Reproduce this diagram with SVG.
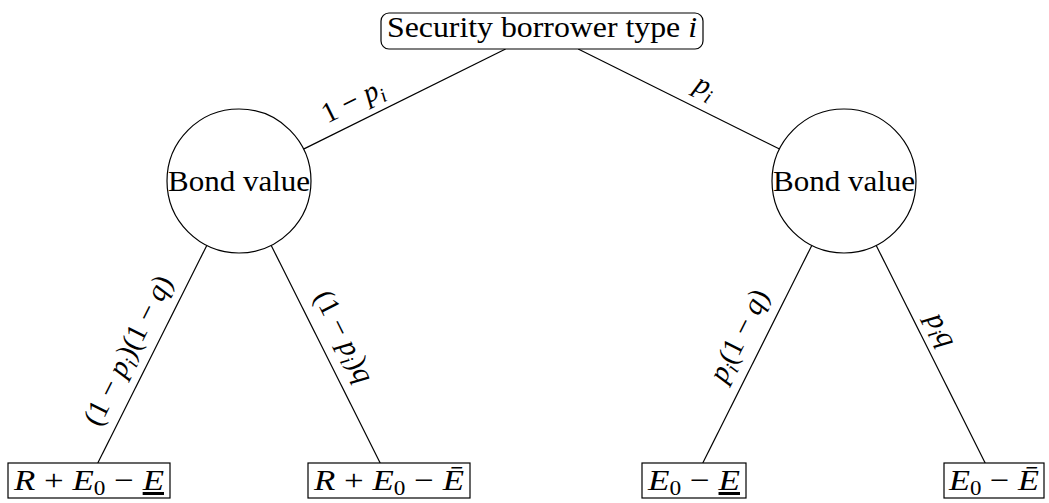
<svg xmlns="http://www.w3.org/2000/svg" width="1049" height="503" viewBox="0 0 1049 503">
<style>
.t{font-family:"Liberation Serif","Times New Roman",serif;font-size:30px;fill:#000;text-anchor:middle}
.l{font-family:"Liberation Serif","Times New Roman",serif;font-size:29px;fill:#000;text-anchor:middle}
.i{font-style:italic}
.s{font-size:20px}
.shape{fill:#fff;stroke:#000;stroke-width:1.2}
.edge{stroke:#000;stroke-width:1.2;fill:none}
</style>
<rect width="1049" height="503" fill="#fff"/>
<g id="connectors">
<line class="edge" x1="505.6" y1="49" x2="303.5" y2="149.1"/>
<line class="edge" x1="578.2" y1="49" x2="779.5" y2="149"/>
<line class="edge" x1="206.8" y1="245.4" x2="97.8" y2="463"/>
<line class="edge" x1="271.2" y1="245.4" x2="380.2" y2="463"/>
<line class="edge" x1="811.8" y1="245.4" x2="702.8" y2="463"/>
<line class="edge" x1="876.2" y1="245.4" x2="985.2" y2="463"/>
<g id="label-1mpi" transform="translate(353,102) rotate(-26.3)"><text class="l" y="8">1 − <tspan class="i">p</tspan><tspan class="i s" dy="6">i</tspan></text></g>
<g id="label-pi" transform="translate(705,87) rotate(26.4)"><text class="l" y="8"><tspan class="i">p</tspan><tspan class="i s" dy="6">i</tspan></text></g>
<g id="label-ll" transform="translate(129,351) rotate(-63.4)"><text class="l" y="8">(1 − <tspan class="i">p</tspan><tspan class="i s" dy="6">i</tspan><tspan dy="-6">)(1 − </tspan><tspan class="i">q</tspan>)</text></g>
<g id="label-lr" transform="translate(343,337) rotate(63.4)"><text class="l" y="8">(1 − <tspan class="i">p</tspan><tspan class="i s" dy="6">i</tspan><tspan dy="-6">)</tspan><tspan class="i">q</tspan></text></g>
<g id="label-rl" transform="translate(740,336) rotate(-63.4)"><text class="l" y="8"><tspan class="i">p</tspan><tspan class="i s" dy="6">i</tspan><tspan dy="-6">(1 − </tspan><tspan class="i">q</tspan>)</text></g>
<g id="label-rr" transform="translate(941,330) rotate(63.4)"><text class="l" y="8"><tspan class="i">p</tspan><tspan class="i s" dy="6">i</tspan><tspan class="i" dy="-6">q</tspan></text></g>
</g>
<g id="root">
<rect class="shape" x="381" y="13" width="322" height="36" rx="8"/>
<text class="t" x="542" y="37" textLength="310" lengthAdjust="spacingAndGlyphs">Security borrower type <tspan class="i">i</tspan></text>
</g>
<g id="bond-left">
<circle class="shape" cx="239" cy="181" r="72"/>
<text class="t" x="239" y="191" textLength="142" lengthAdjust="spacingAndGlyphs">Bond value</text>
</g>
<g id="bond-right">
<circle class="shape" cx="844" cy="181" r="72"/>
<text class="t" x="844" y="191" textLength="142" lengthAdjust="spacingAndGlyphs">Bond value</text>
</g>
<g id="leaf-1">
<rect class="shape" x="8" y="463" width="162" height="35"/>
<text class="t" x="89" y="490" textLength="150" lengthAdjust="spacingAndGlyphs"><tspan class="i">R</tspan> + <tspan class="i">E</tspan><tspan class="s" dy="5">0</tspan><tspan dy="-5"> − </tspan><tspan class="i" text-decoration="underline">E</tspan></text>
</g>
<g id="leaf-2">
<rect class="shape" x="308" y="463" width="162" height="35"/>
<text class="t" x="389" y="490" textLength="150" lengthAdjust="spacingAndGlyphs"><tspan class="i">R</tspan> + <tspan class="i">E</tspan><tspan class="s" dy="5">0</tspan><tspan dy="-5"> − </tspan><tspan class="i">Ē</tspan></text>
</g>
<g id="leaf-3">
<rect class="shape" x="642" y="463" width="104" height="35"/>
<text class="t" x="694" y="490" textLength="92" lengthAdjust="spacingAndGlyphs"><tspan class="i">E</tspan><tspan class="s" dy="5">0</tspan><tspan dy="-5"> − </tspan><tspan class="i" text-decoration="underline">E</tspan></text>
</g>
<g id="leaf-4">
<rect class="shape" x="944" y="463" width="100" height="35"/>
<text class="t" x="994" y="490" textLength="90" lengthAdjust="spacingAndGlyphs"><tspan class="i">E</tspan><tspan class="s" dy="5">0</tspan><tspan dy="-5"> − </tspan><tspan class="i">Ē</tspan></text>
</g>
</svg>
